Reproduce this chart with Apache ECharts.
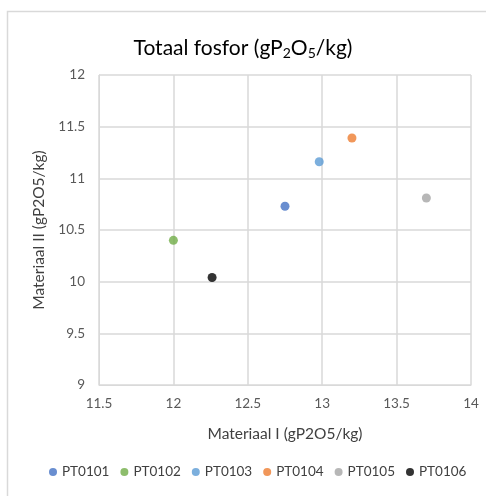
<!DOCTYPE html>
<html>
<head>
<meta charset="utf-8">
<script src="https://cdn.jsdelivr.net/npm/echarts@6/dist/echarts.min.js"></script>
<style>
    html, body { margin: 0; padding: 0; background: #fff; }
    #chart { width: 486px; height: 496px; }
</style>
</head>
<body>
<div id="chart"></div>
<script>
// meetpunten: Materiaal I (x) tegen Materiaal II (y)
var names = ['PT0101', 'PT0102', 'PT0103', 'PT0104', 'PT0105', 'PT0106'];
var materiaal1 = [12.75, 12.0, 12.98, 13.2, 13.7, 12.26];
var materiaal2 = [10.73, 10.4, 11.16, 11.39, 10.81, 10.04];
var colors = ['#4472C4', '#70AD47', '#5B9BD5', '#ED7D31', '#A5A5A5', '#000000'];

var font = 'Lato, "Open Sans", sans-serif';
var chart = echarts.init(document.getElementById('chart'));

var series = names.map(function(name, i) {
    return {
        name: name,
        type: 'scatter',
        symbolSize: 9,
        itemStyle: { color: colors[i] },
        data: [[materiaal1[i], materiaal2[i]]]
    };
});

var axisText = { color: '#595959', fontSize: 13.5, fontFamily: font };

chart.setOption({
    animation: false,
    textStyle: { fontFamily: font },
    graphic: [{
        type: 'rect',
        shape: { x: 7.5, y: 11.5, width: 500, height: 500 },
        style: { fill: 'none', stroke: '#D9D9D9', lineWidth: 1.5 },
        silent: true
    }],
    title: {
        text: 'Totaal fosfor (gP{sub|2}O{sub|5}/kg)',
        left: 'center',
        top: 31,
        textStyle: {
            fontSize: 21,
            fontWeight: 'normal',
            color: '#000',
            fontFamily: font,
            rich: {
                sub: { fontSize: 14, color: '#000', fontFamily: font, padding: [10, 0, 0, 0] }
            }
        }
    },
    legend: {
        bottom: 12,
        left: 44,
        icon: 'circle',
        itemWidth: 8,
        itemHeight: 8,
        itemGap: 11,
        textStyle: { color: '#404040', fontSize: 13.5, fontFamily: font },
        data: names
    },
    grid: { left: 99, right: 15, top: 75, bottom: 111, containLabel: false },
    xAxis: {
        type: 'value',
        min: 11.5,
        max: 14,
        interval: 0.5,
        name: 'Materiaal I (gP2O5/kg)',
        nameLocation: 'middle',
        nameGap: 41,
        nameTextStyle: { color: '#404040', fontSize: 15.5, fontFamily: font },
        axisLine: { show: true, lineStyle: { color: '#D9D9D9' } },
        axisTick: { show: false },
        axisLabel: Object.assign({ margin: 12 }, axisText),
        splitLine: { show: true, lineStyle: { color: '#D9D9D9', width: 1.5 } }
    },
    yAxis: {
        type: 'value',
        min: 9,
        max: 12,
        interval: 0.5,
        name: 'Materiaal II (gP2O5/kg)',
        nameLocation: 'middle',
        nameGap: 49,
        nameTextStyle: { color: '#404040', fontSize: 15.5, fontFamily: font },
        axisLine: { show: true, lineStyle: { color: '#D9D9D9' } },
        axisTick: { show: false },
        axisLabel: Object.assign({ margin: 14 }, axisText),
        splitLine: { show: true, lineStyle: { color: '#D9D9D9', width: 1.5 } }
    },
    series: series
});
</script>
</body>
</html>
